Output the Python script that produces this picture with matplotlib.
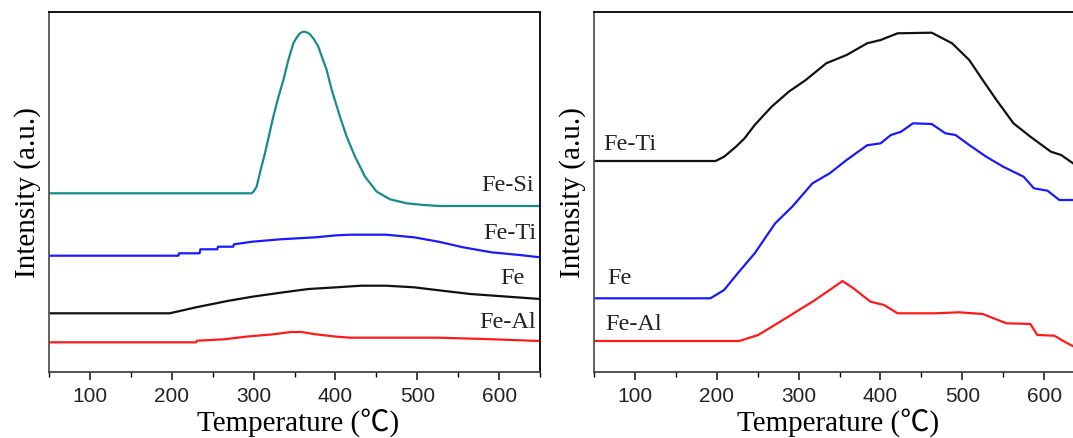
#!/usr/bin/env python3
import matplotlib
matplotlib.use('Agg')
from matplotlib import pyplot as plt
from matplotlib.ticker import MultipleLocator

# 左图数据 (温度, 强度 a.u.)
left_si_t = [50, 250, 297.7, 300.5, 303.7, 308, 313.9, 319, 324.1, 330, 336.4, 342.5, 348.6, 353,
             356.7, 359.5, 362, 365.5, 369, 374, 379.1, 384, 389.3, 395.5, 405.6, 413.8, 424,
             436.2, 450.5, 466.7, 487.1, 507.5, 527.9, 650]
left_si_y = [178.7, 178.7, 178.7, 181, 185.3, 200, 218.7, 237, 255.3, 274, 292, 312, 328.7, 335,
             338.7, 340, 340.3, 339.5, 337.7, 332.5, 325.3, 314, 302, 282, 255.3, 235.3, 215.3,
             195.3, 180.3, 172.7, 168.7, 167, 166, 166]

left_ti_t = [50, 208, 209, 234, 235, 255.5, 256.5, 275, 276, 298.5, 332.8, 375.8, 401.5, 418.7,
             461.7, 496, 526, 556, 590.5, 625, 650]
left_ti_y = [116.3, 116.3, 118.7, 118.7, 122.7, 122.7, 125.3, 125.3, 127.7, 130.3, 132.7, 134.7,
             136.7, 137.3, 137.3, 134.7, 130.3, 124.7, 119.7, 117, 114.7]

left_fe_t = [50, 197.5, 229.7, 268, 298.5, 333, 367, 401.5, 431.6, 461.7, 496, 530.4, 564.8, 599, 650]
left_fe_y = [58.7, 58.7, 64.7, 71, 75.3, 79.3, 83, 84.7, 86.3, 86.3, 84.7, 81.3, 78, 76, 73]

left_al_t = [50, 229.7, 231, 264, 290, 324, 345.7, 358.6, 375.8, 401.5, 418.7, 526, 582, 650]
left_al_y = [29.7, 29.7, 31.3, 32.7, 35.3, 37.7, 40, 40, 37.7, 35.3, 34.3, 34.3, 33, 31]

# 右图数据
right_ti_t = [50, 198.6, 209, 223.5, 234, 246.4, 267, 288, 308.8, 333.8, 358.7, 383.7, 400.3, 421,
              462.7, 487.6, 508.5, 525, 541.8, 562.6, 583.3, 608.3, 620.8, 636.6, 650]
right_ti_y = [211, 211, 215.3, 225.3, 233.7, 247, 265.3, 280.3, 292, 308.7, 317, 328.7, 332, 338.7,
              339.3, 328.7, 312, 292, 272, 248.7, 235.3, 220.3, 217, 208, 203.7]

right_fe_t = [50, 192.3, 209, 225.6, 246.4, 271.4, 292.2, 317, 338, 358.7, 383.7, 400.3, 412.8, 425.3,
              439.8, 462.7, 479.4, 491.8, 508.5, 529.3, 550, 575, 587.5, 604.2, 618.7, 636.6, 650]
right_fe_y = [73.7, 73.7, 82, 98.7, 118.7, 148.7, 165.3, 188.7, 198.7, 212, 226.7, 228.7, 237, 240.3,
              248.7, 248, 238.7, 237, 227, 215.3, 205.3, 195.3, 183.7, 181.3, 172, 172, 172]

right_al_t = [50, 227.7, 250.6, 275.5, 300.5, 317, 338, 353.7, 367, 387.9, 404.5, 421, 466.9, 496,
              525, 554, 583.3, 591.7, 612.5, 625, 636.6, 650]
right_al_y = [31, 31, 37, 49.3, 62, 70.3, 82, 91, 83.7, 70.3, 67, 58.7, 58.7, 59.7,
              58, 48.7, 48, 37, 36.3, 30.3, 25.3, 22]

left_labels = [('Fe-Si', 643, 186), ('Fe-Ti', 646, 138), ('Fe', 631, 93), ('Fe-Al', 645, 50)]
right_labels = [('Fe-Ti', 61, 227), ('Fe', 66, 94), ('Fe-Al', 64, 47)]

teal = '#168c8c'
blue = '#1a1aff'
red = '#ff1a1a'
black = '#111111'

serif = ['Liberation Serif', 'Noto Sans CJK SC']
plt.rcParams['font.family'] = ['Liberation Sans', 'DejaVu Sans']

W, H = 1073, 438
fig = plt.figure(figsize=(W / 100, H / 100), dpi=100)

ax1 = fig.add_axes([49 / W, 66 / H, 491 / W, 359.5 / H])
ax2 = fig.add_axes([594 / W, 66 / H, 491 / W, 359.5 / H])


def style_axis(ax, label_x):
    ax.set_xlim(50, 650)
    ax.set_ylim(0, 359.5)
    ax.xaxis.set_major_locator(MultipleLocator(100))
    ax.xaxis.set_minor_locator(MultipleLocator(50))
    ax.tick_params(axis='x', which='major', direction='out', length=6, width=1.2,
                   labelsize=15, colors='#222222', pad=5)
    ax.tick_params(axis='x', which='minor', direction='out', length=3.5, width=1.0)
    ax.set_yticks([])
    for s in ax.spines.values():
        s.set_linewidth(1.3)
    ax.spines['left'].set_color('#555555')
    ax.spines['bottom'].set_color('#444444')
    ax.set_xlabel('Temperature (℃)', family=serif, fontsize=21, va='baseline')
    ax.set_ylabel('Intensity (a.u.)', family=serif, fontsize=21, labelpad=6)
    # x轴标题基线放在大约 y=431 像素处
    ax.xaxis.set_label_coords(label_x, -59 / 359.5)


style_axis(ax1, 0.507)
style_axis(ax2, 0.497)

lw = 1.6
ax1.plot(left_si_t, left_si_y, color=teal, lw=lw)
ax1.plot(left_ti_t, left_ti_y, color=blue, lw=lw)
ax1.plot(left_fe_t, left_fe_y, color=black, lw=lw)
ax1.plot(left_al_t, left_al_y, color=red, lw=lw)
for txt, t, v in left_labels:
    ax1.text(t, v, txt, ha='right', va='center', family=serif, fontsize=17.5, color='#222222')

ax2.plot(right_ti_t, right_ti_y, color=black, lw=lw)
ax2.plot(right_fe_t, right_fe_y, color=blue, lw=lw)
ax2.plot(right_al_t, right_al_y, color=red, lw=lw)
for txt, t, v in right_labels:
    ax2.text(t, v, txt, ha='left', va='center', family=serif, fontsize=17.5, color='#222222')

fig.savefig('out.png', dpi=100)
